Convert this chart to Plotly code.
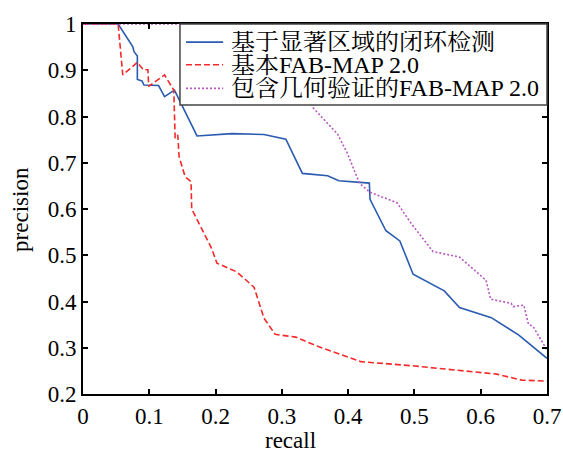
import plotly.graph_objects as go

# ---- data ----
names = ["基于显著区域的闭环检测", "基本FAB-MAP 2.0", "包含几何验证的FAB-MAP 2.0"]
colors = ["#2a5bb0", "#f42a2a", "#b858c0"]
dashes = ["solid", "6px,3px", "2px,2px"]

blue_recall = [0, 0.053, 0.075, 0.077, 0.082, 0.082, 0.089, 0.092, 0.114, 0.123, 0.138,
               0.172, 0.225, 0.273, 0.306, 0.331, 0.369, 0.386, 0.432, 0.433, 0.457,
               0.478, 0.498, 0.545, 0.568, 0.616, 0.657, 0.7]
blue_precision = [1, 1, 0.951, 0.940, 0.931, 0.880, 0.877, 0.868, 0.867, 0.843, 0.857,
                  0.758, 0.763, 0.761, 0.751, 0.677, 0.672, 0.661, 0.656, 0.621, 0.553,
                  0.531, 0.459, 0.423, 0.387, 0.365, 0.328, 0.277]

red_recall = [0, 0.053, 0.060, 0.082, 0.091, 0.098, 0.099, 0.123, 0.137, 0.139, 0.143,
              0.145, 0.154, 0.163, 0.164, 0.194, 0.202, 0.232, 0.258, 0.273, 0.290,
              0.321, 0.356, 0.419, 0.497, 0.624, 0.662, 0.7]
red_precision = [1, 1, 0.890, 0.917, 0.901, 0.901, 0.865, 0.890, 0.857, 0.753, 0.760,
                 0.713, 0.670, 0.659, 0.600, 0.515, 0.483, 0.464, 0.431, 0.364, 0.329,
                 0.323, 0.302, 0.270, 0.261, 0.243, 0.230, 0.228]

purple_recall = [0, 0.30, 0.347, 0.384, 0.399, 0.417, 0.432, 0.474, 0.495, 0.528, 0.568,
                 0.608, 0.615, 0.646, 0.649, 0.665, 0.672, 0.679, 0.7]
purple_precision = [1, 1, 0.819, 0.762, 0.720, 0.656, 0.637, 0.613, 0.569, 0.508, 0.496,
                    0.446, 0.405, 0.396, 0.389, 0.392, 0.351, 0.346, 0.295]

x_ticks = [0, 0.1, 0.2, 0.3, 0.4, 0.5, 0.6, 0.7]
x_tick_labels = ["0", "0.1", "0.2", "0.3", "0.4", "0.5", "0.6", "0.7"]
y_ticks = [0.2, 0.3, 0.4, 0.5, 0.6, 0.7, 0.8, 0.9, 1]
y_tick_labels = ["0.2", "0.3", "0.4", "0.5", "0.6", "0.7", "0.8", "0.9", "1"]
x_title = "recall"
y_title = "precision"

FONT = "Liberation Serif, 'Times New Roman', 'Noto Serif CJK SC', 'Noto Sans CJK SC', serif"
FS = 23
LFS = 24

fig = go.Figure()
series = [(blue_recall, blue_precision), (red_recall, red_precision),
          (purple_recall, purple_precision)]
for (xs, ys), nm, c, d in zip(series, names, colors, dashes):
    fig.add_trace(go.Scatter(x=xs, y=ys, mode="lines", name=nm, showlegend=False,
                             line=dict(color=c, width=1.6, dash=d)))

axis_common = dict(showgrid=False, zeroline=False, showline=True, linecolor="black",
                   linewidth=2, mirror="ticks", ticks="inside", ticklen=5, tickwidth=1.5,
                   tickcolor="black", automargin=False,
                   tickfont=dict(family=FONT, size=FS, color="black"))

fig.update_xaxes(range=[0, 0.7], tickvals=x_ticks, ticktext=x_tick_labels, **axis_common)
fig.update_yaxes(range=[0.2, 1], tickvals=y_ticks, ticktext=y_tick_labels, **axis_common)

# axis titles (x title sits slightly left of centre as in the reference)
annotations = [
    dict(text=x_title, xref="paper", yref="paper", x=0.448, y=-0.125, height=22,
         xanchor="center", yanchor="middle", showarrow=False,
         font=dict(family=FONT, size=FS, color="black")),
    dict(text=y_title, xref="paper", yref="paper", x=-0.136, y=0.5, textangle=-90,
         xanchor="center", yanchor="middle", showarrow=False,
         font=dict(family=FONT, size=FS, color="black")),
]

# legend drawn as a box with line samples and labels
shapes = [dict(type="rect", xref="paper", yref="paper", x0=0.209, x1=1.0, y0=0.781, y1=1.0,
               fillcolor="white", line=dict(color="#444444", width=1.5), layer="above")]
row_y = [0.951, 0.890, 0.826]
for nm, c, d, yy in zip(names, colors, dashes, row_y):
    shapes.append(dict(type="line", xref="paper", yref="paper", x0=0.222, x1=0.302,
                       y0=yy, y1=yy, line=dict(color=c, width=1.6, dash=d), layer="above"))
    annotations.append(dict(text=nm, xref="paper", yref="paper", x=0.315, y=yy, height=22,
                            xanchor="left", yanchor="middle", showarrow=False,
                            font=dict(family=FONT, size=LFS, color="black")))

fig.update_layout(
    width=563, height=451,
    margin=dict(l=83, r=16, t=24, b=57),
    plot_bgcolor="white", paper_bgcolor="white",
    font=dict(family=FONT, color="black"),
    showlegend=False,
    shapes=shapes, annotations=annotations,
)

# remove the default page margin so the 563x451 figure fills the window exactly
fig.write_html("out.html", config={"displayModeBar": False},
               post_script="document.body.style.margin='0';document.body.style.overflow='hidden';")
